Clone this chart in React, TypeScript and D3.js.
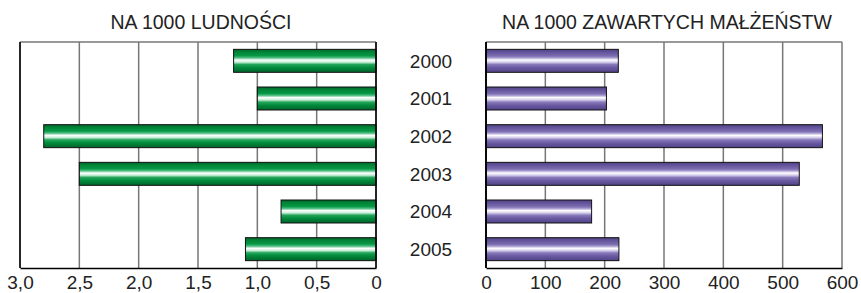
import React, { useEffect, useRef } from 'react';
import * as d3 from 'd3';

const years = ['2000', '2001', '2002', '2003', '2004', '2005'];
const perPopulation = [1.2, 1.0, 2.8, 2.5, 0.8, 1.1];
const perMarriages = [223, 203, 567, 528, 178, 224];
const leftTicks = [3.0, 2.5, 2.0, 1.5, 1.0, 0.5, 0];
const rightTicks = [0, 100, 200, 300, 400, 500, 600];
const leftTitle = 'NA 1000 LUDNOŚCI';
const rightTitle = 'NA 1000 ZAWARTYCH MAŁŻEŃSTW';

const W = 861;
const H = 293;
const top = 42;
const bottom = 268;
const FONT = '"Liberation Sans", Arial, sans-serif';

const App = () => {
  const svgRef = useRef(null);

  useEffect(() => {
    const svg = d3.select(svgRef.current);
    svg.selectAll('*').remove();

    // gradients for the "tube" bars
    const defs = svg.append('defs');
    const addGrad = (id, stops) => {
      const g = defs
        .append('linearGradient')
        .attr('id', id)
        .attr('x1', 0)
        .attr('y1', 0)
        .attr('x2', 0)
        .attr('y2', 1);
      stops.forEach(([o, c]) => g.append('stop').attr('offset', o).attr('stop-color', c));
    };
    addGrad('gGreen', [
      [0, '#00632b'],
      [0.12, '#008536'],
      [0.28, '#069846'],
      [0.38, '#5cc48c'],
      [0.46, '#ffffff'],
      [0.56, '#c8eed8'],
      [0.66, '#22a55a'],
      [0.8, '#00893a'],
      [1, '#00632b'],
    ]);
    addGrad('gPurple', [
      [0, '#514286'],
      [0.15, '#67579f'],
      [0.3, '#7e70b2'],
      [0.38, '#b0a5d6'],
      [0.46, '#ffffff'],
      [0.56, '#d6cfec'],
      [0.66, '#8779ba'],
      [0.8, '#6959a1'],
      [1, '#514286'],
    ]);

    const y = d3
      .scaleBand()
      .domain(years)
      .range([top, bottom])
      .paddingInner(0.39)
      .paddingOuter(0.195);

    const panel = (x0, x1, domain, ticks, values, fill, fmt, title, zeroX) => {
      const x = d3.scaleLinear().domain(domain).range([x0, x1]);
      const g = svg.append('g');

      // top frame + grid lines
      g.append('line')
        .attr('x1', x0)
        .attr('x2', x1)
        .attr('y1', top)
        .attr('y2', top)
        .attr('stroke', '#777')
        .attr('stroke-width', 1.5);
      g.selectAll('.grid')
        .data(ticks)
        .enter()
        .append('line')
        .attr('x1', (d) => x(d))
        .attr('x2', (d) => x(d))
        .attr('y1', top)
        .attr('y2', bottom)
        .attr('stroke', '#777')
        .attr('stroke-width', 1.5);

      // bars
      g.selectAll('.bar')
        .data(values)
        .enter()
        .append('rect')
        .attr('x', (d) => Math.min(x(d), x(0)))
        .attr('width', (d) => Math.abs(x(d) - x(0)))
        .attr('y', (d, i) => y(years[i]))
        .attr('height', y.bandwidth())
        .attr('fill', `url(#${fill})`)
        .attr('stroke', '#111')
        .attr('stroke-width', 1);

      // axes lines
      const xAxis = d3.axisBottom(x).tickValues(ticks).tickSize(0).tickPadding(8).tickFormat(fmt);
      const ax = g.append('g').attr('transform', `translate(0,${bottom})`).call(xAxis);
      ax.select('.domain').attr('stroke', '#000').attr('stroke-width', 1.5);
      ax.selectAll('text')
        .attr('fill', '#222')
        .attr('font-size', 19)
        .attr('font-family', FONT);

      g.append('line')
        .attr('x1', x0)
        .attr('x2', x0)
        .attr('y1', top)
        .attr('y2', bottom)
        .attr('stroke', '#000')
        .attr('stroke-width', 1.5);
      g.append('line')
        .attr('x1', zeroX)
        .attr('x2', zeroX)
        .attr('y1', top)
        .attr('y2', bottom)
        .attr('stroke', '#000')
        .attr('stroke-width', 1.5);

      g.append('text')
        .attr('x', (x0 + x1) / 2 + 3)
        .attr('y', 29)
        .attr('text-anchor', 'middle')
        .attr('fill', '#222')
        .attr('font-size', 19.5)
        .attr('font-family', FONT)
        .text(title);
      return x;
    };

    const lx = d3.scaleLinear().domain([3, 0]).range([20, 376]);
    panel(20, 376, [3, 0], leftTicks, perPopulation, 'gGreen',
      (v) => (v === 0 ? '0' : d3.format('.1f')(v).replace('.', ',')), leftTitle, lx(0));
    panel(486, 842, [0, 600], rightTicks, perMarriages, 'gPurple',
      (v) => `${v}`, rightTitle, 486);

    // year labels between panels
    svg
      .append('g')
      .selectAll('text')
      .data(years)
      .enter()
      .append('text')
      .attr('x', 431)
      .attr('y', (d) => y(d) + y.bandwidth() / 2)
      .attr('dy', '0.36em')
      .attr('text-anchor', 'middle')
      .attr('fill', '#222')
      .attr('font-size', 19)
      .attr('font-family', FONT)
      .text((d) => d);
  }, []);

  return (
    <svg
      ref={svgRef}
      width={W}
      height={H}
      style={{ position: 'absolute', left: 0, top: 0, background: '#fff' }}
    />
  );
};

export default App;
